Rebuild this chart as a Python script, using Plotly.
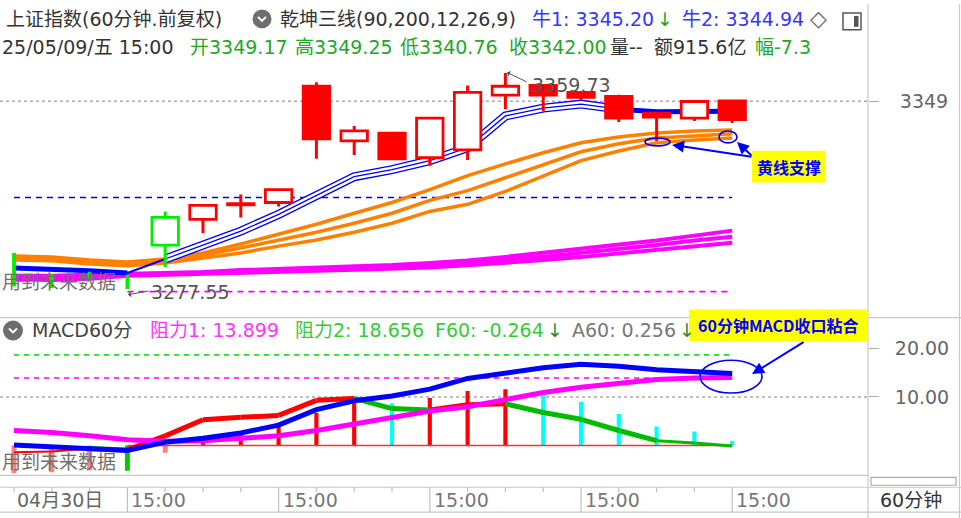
import plotly.graph_objects as go

W, H = 961, 518
FONT = "DejaVu Sans, Noto Sans CJK SC, sans-serif"

# ---------------- data ----------------
idx = list(range(20))
bar_times = ["10:30", "11:30", "14:00", "15:00"] * 5
first_date = "04月30日"

opens  = [3290.5, 3283.0, 3284.1, 3281.4, 3294.3, 3304.1, 3309.6, 3310.5, 3354.7, 3333.9,
          3336.9, 3327.5, 3330.5, 3351.3, 3355.0, 3352.4, 3350.8, 3344.5, 3342.6, 3349.17]
highs  = [3291.3, 3283.3, 3284.2, 3283.0, 3307.1, 3309.6, 3313.5, 3315.6, 3356.2, 3339.6,
          3337.2, 3342.8, 3355.0, 3359.73, 3355.5, 3352.6, 3351.5, 3344.8, 3349.2, 3349.25]
lows   = [3278.5, 3277.9, 3281.1, 3277.55, 3286.0, 3298.8, 3304.8, 3309.0, 3327.1, 3328.6,
          3326.9, 3324.5, 3326.7, 3346.0, 3345.2, 3349.4, 3341.1, 3333.9, 3341.5, 3340.76]
closes = [3280.0, 3278.2, 3281.3, 3279.0, 3304.8, 3309.4, 3310.1, 3315.4, 3334.7, 3337.7,
          3327.1, 3342.6, 3352.4, 3354.7, 3351.3, 3350.5, 3342.6, 3343.0, 3348.9, 3342.00]

blue_line = [3285.6, 3285.2, 3284.5, 3283.7, 3289.0, 3294.3, 3299.6, 3306.0, 3313.2, 3320.3,
             3323.0, 3326.4, 3331.3, 3343.4, 3346.4, 3347.9, 3346.0, 3345.0, 3345.1, 3345.2]
orange_top = [3290.1, 3289.8, 3288.6, 3287.9, 3289.0, 3291.3, 3294.7, 3298.4, 3302.2, 3306.4,
              3310.5, 3315.4, 3320.7, 3325.2, 3329.4, 3333.2, 3335.4, 3336.9, 3337.7, 3338.1]
orange_mid = [3289.4, 3289.0, 3287.9, 3287.1, 3288.3, 3290.5, 3293.2, 3296.2, 3299.2, 3302.6,
              3306.4, 3311.3, 3315.0, 3319.9, 3324.9, 3329.8, 3332.8, 3335.0, 3335.8, 3336.6]
orange_bot = [3288.6, 3288.3, 3287.1, 3286.4, 3287.5, 3289.4, 3291.3, 3293.9, 3296.2, 3299.2,
              3302.6, 3307.1, 3309.8, 3314.7, 3320.7, 3326.4, 3330.1, 3333.2, 3334.3, 3335.0]
magenta_top = [3282.6, 3282.6, 3283.0, 3283.3, 3283.7, 3284.1, 3284.8, 3285.2, 3285.6, 3286.2,
               3286.7, 3287.5, 3288.4, 3289.8, 3291.3, 3292.8, 3294.3, 3296.0, 3297.9, 3299.8]
magenta_mid = [3281.8, 3281.8, 3282.2, 3283.0, 3283.3, 3283.7, 3284.3, 3284.7, 3285.0, 3285.6,
               3286.0, 3286.7, 3287.5, 3288.6, 3289.9, 3291.3, 3292.8, 3294.3, 3296.0, 3297.5]
magenta_bot = [3281.1, 3281.1, 3281.5, 3282.6, 3283.0, 3283.3, 3283.7, 3284.1, 3284.5, 3284.9,
               3285.2, 3285.8, 3286.6, 3287.5, 3288.6, 3289.8, 3291.1, 3292.4, 3293.9, 3295.2]

blue_level = 3312.4
magenta_level = 3276.6
grid_price = 3349
high_mark = 3359.73
low_mark = 3277.55

dif  = [0.1, -0.2, -0.6, -1.0, 0.7, 1.5, 2.6, 4.2, 7.4, 9.2,
        10.2, 11.6, 13.8, 15.0, 16.0, 16.7, 16.3, 15.6, 15.3, 14.8]
dea  = [3.1, 2.7, 2.0, 1.2, 0.9, 1.0, 1.5, 2.0, 3.1, 4.4,
        5.8, 7.1, 8.0, 9.5, 10.9, 12.0, 12.9, 13.6, 13.9, 14.0]
band = [-1.4, -1.2, -0.6, -0.9, 2.0, 5.3, 5.8, 6.2, 9.3, 9.7,
        7.6, 7.3, 8.4, 8.6, 6.8, 5.4, 3.1, 1.0, 0.55, -0.1]
hist = [-5.7, -5.5, -5.1, -5.2, -1.5, 1.4, 2.4, 4.7, 6.7, 8.9,
        8.7, 9.8, 11.2, 11.6, 10.4, 9.0, 6.5, 3.9, 2.9, 1.0]
resist1 = 13.899
resist2 = 18.656
macd_grid = 10
macd_ticks = [10, 20]

# ---------------- helpers ----------------
def px(x):
    return x / W

def py(y):
    return 1 - y / H

RED = "#FF0000"
GREEN = "#00EE00"
BLUE = "#0000FF"
MAG = "#FF00FF"
ORANGE = "#FF8000"

fig = go.Figure()

def up_line(x, y, color, width, dash=None, axis="y"):
    fig.add_trace(go.Scatter(x=x, y=y, mode="lines", xaxis="x", yaxis=axis,
                             line=dict(color=color, width=width, dash=dash),
                             hoverinfo="skip"))

# ---- upper panel lines ----
up_line([idx[0], idx[-1]], [blue_level] * 2, BLUE, 1.6, "6px,5px")
up_line([idx[3], idx[-1]], [magenta_level] * 2, MAG, 1.6, "6px,5px")
for arr in (magenta_bot, magenta_mid, magenta_top):
    up_line(idx, arr, MAG, 4)
for arr in (orange_bot, orange_mid, orange_top):
    up_line(idx, arr, ORANGE, 3.5)
up_line(idx[0:4], blue_line[0:4], BLUE, 5)
up_line(idx[3:5], blue_line[3:5], BLUE, 2)
up_line(idx[4:17], blue_line[4:17], BLUE, 9)
up_line(idx[4:17], blue_line[4:17], "white", 6.4)
up_line(idx[4:17], blue_line[4:17], BLUE, 1.3)
up_line(idx[16:], blue_line[16:], BLUE, 5)

# ---- candles (overlay axis y3 so they sit above the lines) ----
def ccol(i):
    return GREEN if i <= 4 else RED

body_x = [i for i in idx if i >= 4]
fig.add_trace(go.Bar(
    x=body_x,
    y=[max(abs(closes[i] - opens[i]), 0.3) for i in body_x],
    base=[min(opens[i], closes[i]) for i in body_x],
    width=0.70, xaxis="x", yaxis="y3", hoverinfo="skip",
    marker=dict(color=["white" if closes[i] >= opens[i] else ccol(i) for i in body_x],
                line=dict(color=[ccol(i) for i in body_x], width=2.8))))
thin_x = [i for i in idx if i < 4]
fig.add_trace(go.Bar(
    x=thin_x, y=[highs[i] - lows[i] for i in thin_x], base=[lows[i] for i in thin_x],
    width=0.1, xaxis="x", yaxis="y3", hoverinfo="skip",
    marker=dict(color=GREEN, line=dict(width=0))))
for colr in (RED, GREEN):
    wx, wy = [], []
    for i in body_x:
        if ccol(i) != colr:
            continue
        top, bot = max(opens[i], closes[i]), min(opens[i], closes[i])
        wx += [i, i, None, i, i, None]
        wy += [highs[i], top, None, bot, lows[i], None]
    fig.add_trace(go.Scatter(x=wx, y=wy, mode="lines", xaxis="x", yaxis="y3",
                             line=dict(color=colr, width=3), hoverinfo="skip"))

# ---- MACD panel ----
def lo_line(x, y, color, width, dash=None):
    fig.add_trace(go.Scatter(x=x, y=y, mode="lines", xaxis="x2", yaxis="y2",
                             line=dict(color=color, width=width, dash=dash),
                             hoverinfo="skip"))

lo_line([idx[0], idx[-1]], [resist2] * 2, "#22DD22", 1.6, "5px,5px")
lo_line([idx[0], idx[-1]], [resist1] * 2, MAG, 1.6, "5px,5px")
lo_line([idx[3], idx[-1]], [0, 0], "#FF3030", 1.6)
for i in range(len(idx) - 1):
    colr = RED if band[i + 1] >= band[i] else "#00BB00"
    wdt = 2 if i < 2 else (3 if i >= 17 else 5)
    lo_line(idx[i:i + 2], band[i:i + 2], colr, wdt)

hcols, hw = [], []
for i, v in enumerate(hist):
    prev = hist[i - 1] if i > 0 else v
    if v < 0:
        hcols.append("#FF8080" if v >= prev else "#00CC00")
        hw.append(0.13)
    else:
        hcols.append(RED if v >= prev else "#00FFFF")
        hw.append(0.11)
fig.add_trace(go.Bar(x=idx, y=hist, width=hw, xaxis="x2", yaxis="y2",
                     marker=dict(color=hcols, line=dict(width=0)), hoverinfo="skip"))
lo_line(idx, dea, MAG, 5)
lo_line(idx, dif, BLUE, 5)

# ---------------- layout ----------------
XR = [-14 / 37.8, (868 - 14) / 37.8]
xdom = [0, px(868)]
upper_rng = [grid_price - (312 - 98) / 2.65, grid_price + (98 - 50) / 2.65]
lower_rng = [-(475 - 445) / 4.9, (445 - 340) / 4.9]

axis_common = dict(showgrid=False, zeroline=False, showline=False)
fig.update_layout(
    width=W, height=H, margin=dict(l=0, r=0, t=0, b=0),
    paper_bgcolor="white", plot_bgcolor="white",
    showlegend=False, barmode="overlay", hovermode=False,
    xaxis=dict(domain=xdom, range=XR, visible=False, anchor="y"),
    xaxis2=dict(domain=xdom, range=XR, visible=False, anchor="y2", matches="x"),
    yaxis=dict(domain=[py(312), py(50)], range=upper_rng, side="right", anchor="x",
               tickvals=[grid_price], ticktext=[str(grid_price)], ticks="outside",
               ticklen=10, tickcolor="#AAAAAA", ticklabelstandoff=17,
               tickfont=dict(family=FONT, size=19, color="#666666"), **axis_common),
    yaxis3=dict(range=upper_rng, overlaying="y", anchor="x", visible=False),
    yaxis2=dict(domain=[py(475), py(340)], range=lower_rng, side="right", anchor="x2",
                tickvals=macd_ticks, ticktext=[f"{t:.2f}" for t in macd_ticks],
                ticks="outside", ticklen=10, tickcolor="#AAAAAA", ticklabelstandoff=12,
                tickfont=dict(family=FONT, size=19, color="#666666"), **axis_common),
)

shapes = []
def pline(x0, y0, x1, y1, color="#C8C8C8", width=1.2, dash=None):
    shapes.append(dict(type="line", xref="paper", yref="paper", x0=px(x0), y0=py(y0),
                       x1=px(x1), y1=py(y1), line=dict(color=color, width=width, dash=dash)))

# grid lines
shapes.append(dict(type="line", xref="paper", yref="y", x0=0, x1=px(868), y0=grid_price,
                   y1=grid_price, line=dict(color="#AAAAAA", width=1.5, dash="dot"), layer="below"))
shapes.append(dict(type="line", xref="paper", yref="y2", x0=0, x1=px(868), y0=macd_grid,
                   y1=macd_grid, line=dict(color="#AAAAAA", width=1.5, dash="dot"), layer="below"))
# frame lines
pline(868, 0, 868, 518)
pline(959.5, 0, 959.5, 518)
pline(0, 316, 961, 316)
pline(0, 475, 868, 475)
pline(0, 487, 961, 487)
pline(0, 512, 961, 512)
shapes.append(dict(type="rect", xref="paper", yref="paper", x0=px(871), x1=px(956),
                   y0=py(477), y1=py(485), line=dict(color="#AAAAAA", width=1.2)))
# x axis separators
for i, t in enumerate(bar_times):
    shapes.append(dict(type="line", xref="x", yref="paper", x0=i, x1=i, y0=py(487),
                       y1=py(512 if t == "15:00" else 492),
                       line=dict(color="#C0C0C0", width=1.2)))
# header icons
for cx, cy, r in ((262, 15, 9.5), (13, 329, 10)):
    shapes.append(dict(type="circle", xref="paper", yref="paper", x0=px(cx - r), x1=px(cx + r),
                       y0=py(cy + r), y1=py(cy - r), fillcolor="#6E6E6E", line=dict(width=0)))
    shapes.append(dict(type="path", xref="paper", yref="paper",
                       path=f"M {px(cx-4)},{py(cy-2)} L {px(cx)},{py(cy+2)} L {px(cx+4)},{py(cy-2)}",
                       line=dict(color="white", width=2)))
shapes.append(dict(type="rect", xref="paper", yref="paper", x0=px(843), x1=px(861),
                   y0=py(26), y1=py(9), line=dict(color="#555555", width=1.5)))
shapes.append(dict(type="rect", xref="paper", yref="paper", x0=px(854), x1=px(858.5),
                   y0=py(23), y1=py(12), fillcolor="#555555", line=dict(width=0)))
# yellow note boxes
for x0, y0, x1, y1 in ((752, 148, 825, 180), (689, 308, 868, 340)):
    shapes.append(dict(type="rect", xref="paper", yref="paper", x0=px(x0), x1=px(x1),
                       y0=py(y1), y1=py(y0), fillcolor="#FFFF00", line=dict(width=0),
                       layer="above"))
# ellipses
for x0, y0, x1, y1 in ((645, 135, 670, 143), (719, 128, 737, 140), (700, 359, 762, 392)):
    shapes.append(dict(type="circle", xref="paper", yref="paper", x0=px(x0), x1=px(x1),
                       y0=py(y1), y1=py(y0), line=dict(color=BLUE, width=1.6), layer="above"))

anns = []
def txt(s, x, y, color="#333333", size=19, anchor="left", bold=False, family=FONT):
    anns.append(dict(text=f"<b>{s}</b>" if bold else s, x=px(x), y=py(y),
                     xref="paper", yref="paper", xanchor=anchor, yanchor="middle",
                     showarrow=False, font=dict(family=family, size=size, color=color)))

def arrow(hx, hy, tx, ty, color=BLUE, width=2, head=2, size=1.2):
    anns.append(dict(text="", x=px(hx), y=py(hy), xref="paper", yref="paper",
                     ax=tx - hx, ay=ty - hy, axref="pixel", ayref="pixel",
                     showarrow=True, arrowhead=head, arrowsize=size,
                     arrowwidth=width, arrowcolor=color))

TGREEN = "#22A822"
TBLUE = "#3535FF"
# row 1
txt("上证指数(60分钟.前复权)", 4, 15)
txt("乾坤三线(90,200,12,26,9)", 278, 15)
txt("牛1: 3345.20", 530, 15, TBLUE)
txt("↓", 655, 15, TGREEN)
txt("牛2: 3344.94", 680, 15, TBLUE)
txt("◇", 808, 15, "#666666", 22)
# row 2
txt("25/05/09/五 15:00", 0, 43)
txt(f"开{opens[-1]:.2f}", 188, 43, TGREEN)
txt(f"高{highs[-1]:.2f}", 293, 43, TGREEN)
txt(f"低{lows[-1]:.2f}", 398, 43, TGREEN)
txt(f"收{closes[-1]:.2f}", 507, 43, TGREEN)
txt("量--", 608, 43)
txt("额915.6亿", 652, 43)
txt("幅-7.3", 753, 43, TGREEN)
# MACD header
txt("MACD60分", 30, 329, "#444444")
txt(f"阻力1: {resist1:.3f}", 148, 329, "#FF33FF")
txt(f"阻力2: {resist2:.3f}", 293, 329, "#33CC33")
txt("F60: -0.264", 433, 329, "#33CC33")
txt("↓", 545, 329, "#2E8B2E")
txt("A60: 0.256", 570, 329, "#777777")
txt("↓", 677, 329, "#2E8B2E")
# future-data warnings
txt("用到未来数据", 0, 280, "#707070")
txt("用到未来数据", 0, 462, "#707070")
# high / low markers
txt(f"{high_mark:.2f}", 530, 82, "#555555")
arrow(507, 69, 528, 79, "#555555", 1, 1, 1)
txt(f"{low_mark:.2f}", 149, 290, "#555555")
arrow(128, 293, 150, 289, "#555555", 1, 1, 1)
# notes
txt("黄线支撑", 788.5, 164, BLUE, 16, "center", True, "Noto Sans CJK SC")
txt("60分钟MACD收口粘合", 778.5, 324, BLUE, 16, "center", True, "Noto Sans CJK SC")
arrow(672, 142, 753, 154)
arrow(737, 139, 753, 154)
arrow(752, 373, 805, 340)
# x axis labels
txt(first_date, 15, 500, "#666666")
for i, t in enumerate(bar_times):
    if t == "15:00":
        anns.append(dict(text=t, x=i, xref="x", xshift=2, xanchor="left", y=py(500),
                         yref="paper", yanchor="middle", showarrow=False,
                         font=dict(family=FONT, size=19, color="#777777")))
txt("60分钟", 878, 500, "#333333")

fig.update_layout(shapes=shapes, annotations=anns)
fig.write_html("out.html", config={"displayModeBar": False},
               post_script="document.body.style.margin='0px';"
                           "document.body.style.overflow='hidden';")
